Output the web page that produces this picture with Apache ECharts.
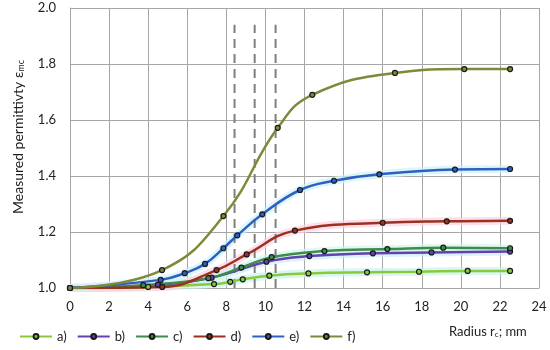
<!DOCTYPE html>
<html>
<head>
<meta charset="utf-8">
<script src="https://cdn.jsdelivr.net/npm/echarts@6/dist/echarts.min.js"></script>
<style>html,body{margin:0;padding:0;background:#fff}#c{width:550px;height:350px}</style>
</head>
<body>
<div id="c"></div>
<script>
const seriesNames = ['a)', 'b)', 'c)', 'd)', 'e)', 'f)'];
const dataA = [[0,1.0],[4.0,1.004],[7.37,1.014],[8.2,1.022],[8.84,1.031],[10.2,1.044],[12.2,1.052],[15.2,1.056],[17.86,1.058],[20.35,1.061],[22.52,1.061]];
const dataB = [[0,1.0],[4.5,1.012],[7.25,1.037],[10.05,1.094],[12.25,1.114],[15.5,1.124],[18.5,1.127],[22.52,1.13]];
const dataC = [[0,1.0],[3.75,1.01],[7.08,1.035],[8.77,1.073],[10.32,1.11],[13.02,1.132],[16.24,1.139],[19.1,1.144],[22.52,1.142]];
const dataD = [[0,1.0],[4.72,1.004],[7.5,1.064],[9.04,1.12],[11.51,1.205],[16.0,1.233],[19.28,1.238],[22.52,1.24]];
const dataE = [[0,1.0],[4.64,1.029],[5.87,1.053],[6.91,1.086],[7.85,1.142],[8.56,1.188],[9.84,1.263],[11.77,1.35],[13.51,1.383],[15.83,1.406],[19.7,1.423],[22.52,1.425]];
const dataF = [[0,1.0],[4.71,1.064],[7.85,1.257],[10.63,1.572],[12.4,1.69],[16.63,1.768],[20.18,1.782],[22.52,1.782]];
const dashX = [8.42, 9.45, 10.52];
const dashYRange = [1.0, 1.94];
const xTicks = {min: 0, max: 24, interval: 2};
const yTicks = {min: 1.0, max: 2.0, interval: 0.2};

const allData = [dataA, dataB, dataC, dataD, dataE, dataF];
const colors = ['#8cc83c', '#6440b0', '#3e8c48', '#9a321e', '#2e60c4', '#7f893a'];
const glow = ['#c8f4ec', '#cdeef8', '#d2f6ec', '#ffd2e6', '#cef2f8', null];
const FONT = 'Lato';

const series = [];
allData.forEach((d, i) => {
  if (glow[i]) {
    series.push({
      type: 'line', name: 'glow' + i, data: d, smooth: 0.45, showSymbol: false, silent: true,
      lineStyle: {color: glow[i], width: 8, opacity: 0.7}, z: 1, legendHoverLink: false
    });
  }
});
dashX.forEach((x, i) => {
  series.push({
    type: 'line', name: 'dash' + i, data: dashYRange.map(y => [x, y]), showSymbol: false, silent: true,
    lineStyle: {color: '#7f7f7f', width: 2, type: [9, 6]}, z: 2
  });
});
allData.forEach((d, i) => {
  series.push({
    type: 'line', name: seriesNames[i], data: d, smooth: 0.45,
    symbol: 'circle', symbolSize: 5, showAllSymbol: true,
    lineStyle: {color: colors[i], width: 2.5},
    itemStyle: {color: colors[i], borderColor: '#1a1a1a', borderWidth: 1.2},
    z: 5
  });
});

const chart = echarts.init(document.getElementById('c'), null, {renderer: 'canvas'});
chart.setOption({
  animation: false,
  backgroundColor: '#fff',
  textStyle: {fontFamily: FONT},
  grid: {left: 70, right: 11, top: 8, bottom: 62, containLabel: false},
  xAxis: {
    type: 'value', min: xTicks.min, max: xTicks.max, interval: xTicks.interval,
    axisLine: {show: true, onZero: false, lineStyle: {color: '#a6a6a6'}},
    axisTick: {show: false},
    axisLabel: {color: '#222', fontSize: 13, fontFamily: FONT, margin: 12},
    splitLine: {show: true, lineStyle: {color: '#a6a6a6', width: 1}}
  },
  yAxis: {
    type: 'value', min: yTicks.min, max: yTicks.max, interval: yTicks.interval,
    axisLine: {show: true, lineStyle: {color: '#a6a6a6'}},
    axisTick: {show: false},
    axisLabel: {color: '#222', fontSize: 13, fontFamily: FONT, margin: 14, formatter: v => v.toFixed(1)},
    splitLine: {show: true, lineStyle: {color: '#a6a6a6', width: 1}}
  },
  legend: {
    data: seriesNames, left: 14, top: 325, itemWidth: 32, itemHeight: 6, itemGap: 10,
    textStyle: {color: '#222', fontSize: 13, fontFamily: FONT}
  },
  graphic: [
    {type: 'text', left: 449, top: 325,
      style: {text: '{n|Radius r}{s|c}{n|; mm}', fill: '#222',
        rich: {n: {fontSize: 13, fontFamily: FONT, fill: '#222'}, s: {fontSize: 8, fontFamily: FONT, fill: '#222', verticalAlign: 'bottom', padding: [6,0,0,0]}}}},
    {type: 'text', x: 11, y: 214, rotation: Math.PI / 2,
      style: {text: '{n|Measured permittivty ε}{s|mc}', fill: '#222',
        rich: {n: {fontSize: 14, fontFamily: FONT, fill: '#222'}, s: {fontSize: 9, fontFamily: FONT, fill: '#222', padding: [6,0,0,0]}}}}
  ],
  series: series
});
</script>
</body>
</html>
